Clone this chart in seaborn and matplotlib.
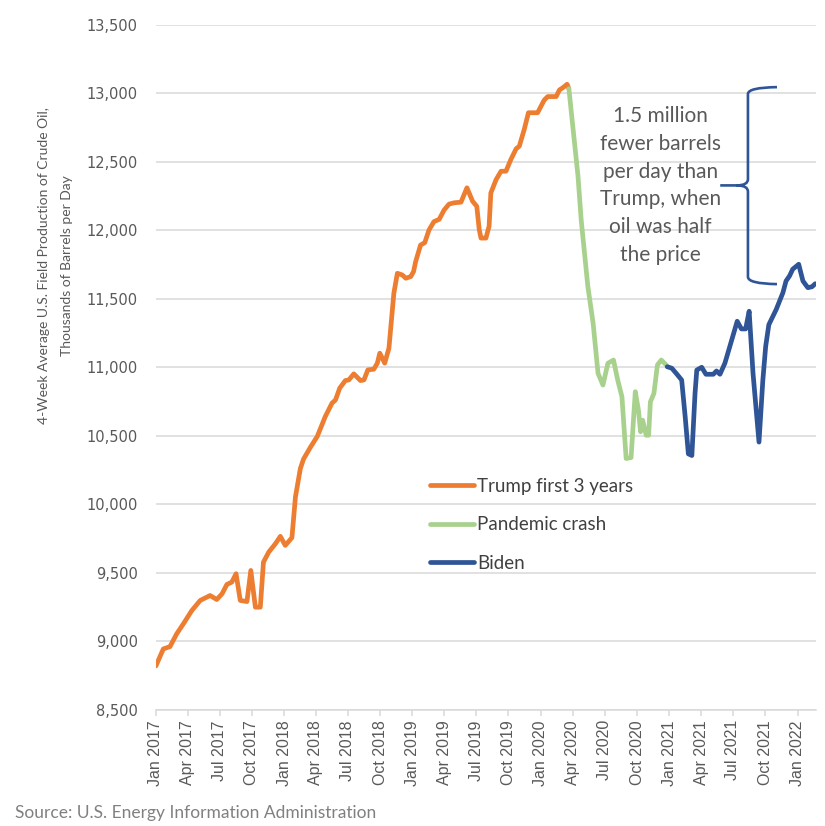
import matplotlib
matplotlib.use("Agg")
import matplotlib.pyplot as plt
import matplotlib.dates as mdates
from matplotlib.path import Path
from matplotlib.patches import PathPatch
from matplotlib.ticker import StrMethodFormatter
import matplotlib.transforms as mtransforms
import seaborn as sns
import pandas as pd

sns.set_style("white")

# weekly-ish readings (thousand barrels/day)
trump_dates = [
    "2017-01-01", "2017-01-22", "2017-02-10", "2017-03-01", "2017-03-20", "2017-04-13",
    "2017-05-07", "2017-06-04", "2017-06-23", "2017-07-08", "2017-07-22", "2017-08-05",
    "2017-08-17", "2017-08-29", "2017-09-17", "2017-09-28", "2017-10-11", "2017-10-25",
    "2017-11-03", "2017-11-18", "2017-12-07", "2017-12-21", "2018-01-04", "2018-01-23",
    "2018-02-02", "2018-02-16", "2018-02-25", "2018-03-17", "2018-04-05", "2018-04-28",
    "2018-05-17", "2018-05-27", "2018-06-08", "2018-06-24", "2018-07-04", "2018-07-18",
    "2018-08-06", "2018-08-16", "2018-08-27", "2018-09-13", "2018-09-23", "2018-09-30",
    "2018-10-14", "2018-10-26", "2018-11-09", "2018-11-19", "2018-12-03", "2018-12-13",
    "2018-12-27", "2019-01-04", "2019-01-10", "2019-01-24", "2019-02-05", "2019-02-17",
    "2019-03-03", "2019-03-18", "2019-04-01", "2019-04-15", "2019-04-30", "2019-05-19",
    "2019-06-05", "2019-06-21", "2019-07-03", "2019-07-10", "2019-07-15", "2019-07-29",
    "2019-08-07", "2019-08-12", "2019-08-27", "2019-09-10", "2019-09-24", "2019-10-08",
    "2019-10-23", "2019-11-01", "2019-11-15", "2019-11-27", "2019-12-23", "2020-01-11",
    "2020-01-21", "2020-02-14", "2020-02-23", "2020-03-04", "2020-03-16", "2020-03-21",
]
trump_values = [
    8820, 8944, 8961, 9054, 9127, 9224,
    9298, 9334, 9305, 9346, 9415, 9432,
    9493, 9298, 9290, 9517, 9249, 9249,
    9578, 9651, 9712, 9766, 9700, 9756,
    10054, 10261, 10330, 10418, 10495, 10641,
    10738, 10762, 10848, 10903, 10908, 10952,
    10903, 10908, 10981, 10986, 11030, 11103,
    11030, 11139, 11540, 11686, 11674, 11650,
    11662, 11698, 11771, 11892, 11910, 12002,
    12063, 12080, 12148, 12191, 12201, 12205,
    12310, 12212, 12175, 12004, 11943, 11943,
    12029, 12273, 12370, 12431, 12431, 12517,
    12595, 12614, 12736, 12858, 12858, 12951,
    12976, 12976, 13024, 13041, 13066, 13034,
]

pandemic_dates = [
    "2020-03-21", "2020-04-16", "2020-04-25", "2020-05-14", "2020-05-29", "2020-06-12",
    "2020-06-26", "2020-07-10", "2020-07-26", "2020-08-07", "2020-08-19", "2020-08-31",
    "2020-09-14", "2020-09-26", "2020-10-05", "2020-10-11", "2020-10-17", "2020-10-27",
    "2020-11-03", "2020-11-08", "2020-11-18", "2020-11-28", "2020-12-09", "2020-12-23",
    "2020-12-26",
]
pandemic_values = [
    13034, 12395, 12078, 11590, 11322, 10956,
    10870, 11029, 11053, 10907, 10785, 10334,
    10341, 10822, 10687, 10529, 10614, 10504,
    10504, 10748, 10809, 11017, 11053, 11017,
    11004,
]

biden_dates = [
    "2020-12-26", "2021-01-08", "2021-01-22", "2021-02-05", "2021-02-15", "2021-02-24",
    "2021-03-06", "2021-03-15", "2021-03-20", "2021-04-03", "2021-04-15", "2021-05-06",
    "2021-05-15", "2021-05-25", "2021-06-08", "2021-06-22", "2021-07-13", "2021-07-25",
    "2021-08-06", "2021-08-16", "2021-08-27", "2021-09-13", "2021-09-24", "2021-10-02",
    "2021-10-11", "2021-11-01", "2021-11-20", "2021-11-29", "2021-12-09", "2021-12-18",
    "2022-01-04", "2022-01-16", "2022-01-30", "2022-02-11", "2022-02-20",
]
biden_values = [
    11004, 10993, 10951, 10907, 10638, 10368,
    10356, 10809, 10980, 11000, 10949, 10949,
    10973, 10949, 11030, 11152, 11336, 11280,
    11280, 11409, 10956, 10454, 10907, 11152,
    11311, 11422, 11544, 11630, 11667, 11716,
    11752, 11630, 11581, 11588, 11610,
]

periods = ["Trump first 3 years", "Pandemic crash", "Biden"]
colors = ["#ED7D31", "#A9D18E", "#2F5597"]

trump_peak = 13040
biden_level = 11615

frames = []
for name, d, v in zip(periods, [trump_dates, pandemic_dates, biden_dates],
                      [trump_values, pandemic_values, biden_values]):
    frames.append(pd.DataFrame({"date": pd.to_datetime(d), "value": v, "period": name}))
df = pd.concat(frames, ignore_index=True)

fig = plt.figure(figsize=(8.25, 8.26), dpi=100)
ax = fig.add_axes([0.189, 0.1407, 0.800, 0.8293])

sns.lineplot(data=df, x="date", y="value", hue="period", hue_order=periods,
             palette=colors, estimator=None, linewidth=3.4, ax=ax, legend=True)

ax.set_ylim(8500, 13500)
ax.set_yticks(range(8500, 14000, 500))
ax.yaxis.set_major_formatter(StrMethodFormatter("{x:,.0f}"))
ax.set_xlim(pd.Timestamp("2017-01-01"), pd.Timestamp("2022-02-22"))
ax.xaxis.set_major_locator(mdates.MonthLocator(bymonth=[1, 4, 7, 10]))
ax.xaxis.set_major_formatter(mdates.DateFormatter("%b %Y"))

grid_c = "#d9d9d9"
ax.grid(axis="y", color=grid_c, linewidth=1.1)
ax.set_axisbelow(True)
for s in ["left", "right", "top"]:
    ax.spines[s].set_visible(False)
ax.spines["bottom"].set_color(grid_c)
ax.spines["bottom"].set_linewidth(1.1)

ax.tick_params(axis="x", which="major", bottom=True, length=4.5, width=1.1, color=grid_c,
               labelrotation=90, labelsize=11.5, labelcolor="#595959", pad=3)
ax.tick_params(axis="y", left=False, labelsize=10.5, labelcolor="#595959", pad=9.5)
for lab in ax.get_xticklabels():
    lab.set_fontfamily("Liberation Sans")
for lab in ax.get_yticklabels():
    lab.set_fontfamily("DejaVu Sans")
ax.set_xlabel("")
ax.set_ylabel("")

leg = ax.legend(loc="upper left", bbox_to_anchor=(0.416, 0.339), frameon=False,
                prop={"family": "Lato", "size": 13.5}, labelspacing=1.15,
                handlelength=2.3, handletextpad=0.2, borderpad=0, borderaxespad=0)
for t in leg.get_texts():
    t.set_color("#404040")

# brace: x in axes fraction, y in data
trans = mtransforms.blended_transform_factory(ax.transAxes, ax.transData)
mid = (trump_peak + biden_level) / 2
xv, xt, xe, xm = 0.897, 0.855, 0.941, 0.880
r = 45
verts = [
    (xe, trump_peak + 5), (xv, trump_peak + 2), (xv, trump_peak - r),
    (xv, mid + r), (xv, mid), (xm, mid),
    (xt, mid),
    (xm, mid), (xv, mid), (xv, mid - r),
    (xv, biden_level + r), (xv, biden_level - 5), (xe, biden_level - 8),
]
codes = [
    Path.MOVETO, Path.CURVE3, Path.CURVE3,
    Path.LINETO, Path.CURVE3, Path.CURVE3,
    Path.LINETO,
    Path.MOVETO, Path.CURVE3, Path.CURVE3,
    Path.LINETO, Path.CURVE3, Path.CURVE3,
]
ax.add_patch(PathPatch(Path(verts, codes), transform=trans, facecolor="none",
                       edgecolor="#2F5597", linewidth=1.9, clip_on=False))

ax.text(0.764, mid, "1.5 million\nfewer barrels\nper day than\nTrump, when\noil was half\nthe price",
        transform=trans, ha="center", va="center", fontsize=15, family="Lato",
        color="#595959", linespacing=1.48)

fig.text(0.067, 0.679,
         "4-Week Average U.S. Field Production of Crude Oil,\nThousands of Barrels per Day",
         rotation=90, ha="center", va="center", multialignment="center",
         fontsize=10, family="Lato", color="#595959", linespacing=2.05)

fig.text(0.018, 0.0157, "Source: U.S. Energy Information Administration",
         ha="left", va="center", fontsize=12.5, family="Lato", color="#808080")

fig.savefig("out.png", dpi=100)
